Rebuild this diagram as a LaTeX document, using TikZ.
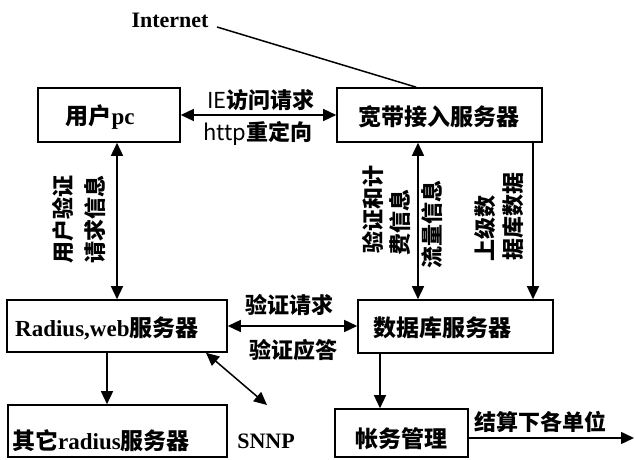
\documentclass[tikz,border=0pt]{standalone}
\usepackage{fontspec}
\setmainfont{Liberation Serif}
\newfontfamily\cjk{Noto Sans CJK SC}
\usetikzlibrary{arrows.meta,calc}
\tikzset{
 box/.style={draw, line width=1.6pt, inner sep=0pt},
 txt/.style={inner sep=0pt, font=\bfseries\fontsize{23}{25}\selectfont},
 lbl/.style={inner sep=0pt, font=\cjk\bfseries\fontsize{22}{24}\selectfont},
 con/.style={line width=1.5pt},
 arr/.style={con, -{Triangle[length=13pt,width=12pt]}},
 dbl/.style={con, {Triangle[length=13pt,width=12pt]}-{Triangle[length=13pt,width=12pt]}},
}
\begin{document}
\begin{tikzpicture}[x=1pt,y=1pt]
\useasboundingbox (0,0) rectangle (635,460);
% boxes
\node[box, minimum width=142pt, minimum height=54pt] (pc) at (109,345) {};
\node[box, minimum width=205pt, minimum height=54pt] (bb) at (439.5,345) {};
\node[box, minimum width=220pt, minimum height=52pt] (rad) at (117,134) {};
\node[box, minimum width=195pt, minimum height=53pt] (db) at (455.5,133.5) {};
\node[box, minimum width=219pt, minimum height=52pt] (oth) at (117.5,29) {};
\node[box, minimum width=133pt, minimum height=48pt] (acc) at (401.5,27) {};
% box texts
\node[txt] (pct) at (100,343) {{\cjk 用户}pc};
\node[txt] (bbt) at (439,343) {\cjk 宽带接入服务器};
\node[txt, anchor=west] (radt) at (15,132) {Radius,web{\cjk 服务器}};
\node[txt, anchor=west] (dbt) at (373,132) {\cjk 数据库服务器};
\node[txt, anchor=west] (otht) at (12,19) {{\cjk 其它}radius{\cjk 服务器}};
\node[txt] (acct) at (401,21) {\cjk 帐务管理};
% Internet
\node[inner sep=0pt, font=\bfseries\fontsize{22}{24}\selectfont] (inet) at (170,440) {Internet};
\coordinate (inetEnd) at (217,433);
\draw[con] (inetEnd) -- ($(bb.north west)+(80,0)$);
% pc <-> bb
\draw[dbl] (pc.east) -- (bb.west);
\node[lbl] (ie) at (261,360) {{\mdseries IE}访问请求};
\node[lbl] (http) at (258,327) {{\mdseries http}重定向};
% pc <-> rad
\draw[dbl] (pc.south -| rad.north) -- (rad.north);
\node[lbl, rotate=90] (l1) at (63,240) {用户验证};
\node[lbl, rotate=90] (l2) at (95,240) {请求信息};
% rad <-> db
\draw[dbl] (rad.east) -- (rad.east -| db.west);
\node[lbl] (vq) at (289,155) {验证请求};
\node[lbl] (va) at (293,110) {验证应答};
% bb <-> db
\coordinate (xa) at (418,0);
\coordinate (xb) at (533,0);
\draw[dbl] (bb.south -| xa) -- (db.north -| xa);
\draw[arr] (bb.south -| xb) -- (db.north -| xb);
\node[lbl, rotate=90] (l3) at (373,250) {验证和计};
\node[lbl, rotate=90] (l4) at (400,237.5) {费信息};
\node[lbl, rotate=90] (l5) at (432,235) {流量信息};
\node[lbl, rotate=90] (l6) at (485,231.5) {上级数};
\node[lbl, rotate=90] (l7) at (513,243.5) {据库数据};
% rad -> oth
\coordinate (xc) at (107,0);
\draw[arr] (rad.south -| xc) -- (oth.north -| xc);
% SNNP
\node[inner sep=0pt, font=\bfseries\fontsize{22}{24}\selectfont] (snnp) at (266,19) {SNNP};
\coordinate (xs) at (206,0);
\coordinate (snnpArr) at (267,55);
\draw[dbl] (rad.south -| xs) -- (snnpArr);
% db -> acc
\coordinate (xd) at (380,0);
\draw[arr] (db.south -| xd) -- (acc.north -| xd);
% acc -> out
\coordinate (out) at (634,22);
\draw[arr] (acc.east |- out) -- (out);
\node[lbl] (js) at (540,38) {结算下各单位};
\end{tikzpicture}
\end{document}
